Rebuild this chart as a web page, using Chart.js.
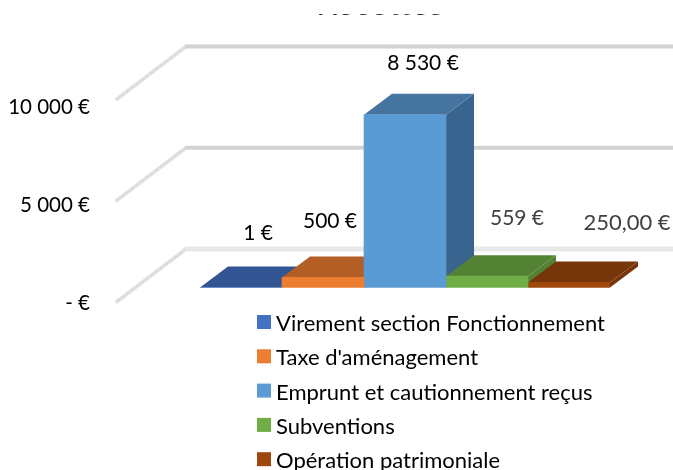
<!DOCTYPE html>
<html><head><meta charset="utf-8">
<style>html,body{margin:0;padding:0;background:#fff;overflow:hidden}canvas{display:block}</style>
<script src="https://cdn.jsdelivr.net/npm/chart.js@4/dist/chart.umd.min.js"></script>
</head><body>
<canvas id="c" width="673" height="470"></canvas>
<script>
const chartTitle = "Recettes";
const categories = [""];
const seriesNames = ["Virement section Fonctionnement","Taxe d'aménagement","Emprunt et cautionnement reçus","Subventions","Opération patrimoniale"];
const seriesValues = [1, 500, 8530, 559, 250];
const valueLabels = ["1 €","500 €","8 530 €","559 €","250,00 €"];
const tickValues = [0, 5000, 10000];
const tickLabels = ["- €","5 000 €","10 000 €"];

const frontColors = ["#4472C4","#ED7D31","#5B9BD5","#70AD47","#9E480E"];
const topColors   = ["#335593","#B25E25","#44749F","#548235","#773609"];
const sideColors  = ["#2C4B81","#9C5320","#396490","#548235","#773609"];
const labelColors = ["#000","#000","#000","#404040","#404040"];
const labelSizes  = [21,21,21,21,22];
const labelShift  = [[17,-54],[7,-56],[18,-52],[30,-58],[58,-60]];
const FONT = "Lato";
const DEPTH = {dx:28, dy:-21};
const WALL = {dx:71, dy:-54, yShift:-38.5, xInset:14};

const scene = {
  id:"scene",
  beforeDatasetsDraw(chart){
    const c = chart.ctx, a = chart.chartArea, d = chart.scales.depth;
    const x1 = a.left - WALL.xInset;
    c.save();
    // title, cut by the top of the picture as in the original
    c.save();
    c.beginPath(); c.rect(0,14,chart.width,40); c.clip();
    c.fillStyle="#333"; c.font="34px "+FONT; c.textAlign="left"; c.textBaseline="alphabetic";
    c.fillText(chartTitle, 316, 14.7);
    c.restore();
    // walls
    tickValues.forEach((v,i)=>{
      const y = d.getPixelForValue(v)+WALL.yShift;
      c.lineCap="round";
      c.strokeStyle="#e3e3e3"; c.lineWidth=4;
      c.beginPath(); c.moveTo(x1+WALL.dx*-1+2,y-WALL.dy-1.5); c.lineTo(x1,y); c.stroke();
      c.strokeStyle="#d0d0d0"; c.lineWidth=1; c.setLineDash([3,3]);
      c.beginPath(); c.moveTo(x1+WALL.dx*-1+2,y-WALL.dy-1.5); c.lineTo(x1,y); c.stroke();
      c.setLineDash([]);
      c.lineCap="butt";
      c.strokeStyle = i===0 ? "#e8e8e8" : "#d2d2d2"; c.lineWidth = i===0 ? 5 : 4;
      c.beginPath(); c.moveTo(x1-1,y); c.lineTo(chart.width,y); c.stroke();
    });
    // extrusion of each bar
    chart.data.datasets.forEach((ds,i)=>{
      const b = chart.getDatasetMeta(i).data[0];
      const l=b.x-b.width/2, r=b.x+b.width/2, t=b.y, bo=b.base;
      c.fillStyle=sideColors[i];
      c.beginPath(); c.moveTo(r,t); c.lineTo(r+DEPTH.dx,t+DEPTH.dy); c.lineTo(r+DEPTH.dx,bo+DEPTH.dy); c.lineTo(r,bo); c.closePath(); c.fill();
      c.fillStyle=topColors[i];
      c.beginPath(); c.moveTo(l,t); c.lineTo(l+DEPTH.dx,t+DEPTH.dy); c.lineTo(r+DEPTH.dx,t+DEPTH.dy); c.lineTo(r,t); c.closePath(); c.fill();
    });
    c.restore();
  },
  afterDatasetsDraw(chart){
    const c = chart.ctx;
    c.save();
    c.textAlign="center"; c.textBaseline="middle";
    chart.data.datasets.forEach((ds,i)=>{
      const b = chart.getDatasetMeta(i).data[0];
      c.font=labelSizes[i]+"px "+FONT;
      c.fillStyle=labelColors[i];
      c.fillText(valueLabels[i], b.x+labelShift[i][0], b.y+labelShift[i][1]);
    });
    // legend
    c.textAlign="left"; c.font="22px "+FONT;
    chart.data.datasets.forEach((ds,i)=>{
      const y = 323+i*34.3;
      c.fillStyle=ds.backgroundColor; c.fillRect(257,y-8,14,14);
      c.fillStyle="#000"; c.fillText(ds.label,276,y+1);
    });
    c.restore();
  }
};

new Chart(document.getElementById("c"),{
  type:"bar",
  data:{labels:categories,
    datasets:seriesNames.map((n,i)=>({label:n,data:[seriesValues[i]],backgroundColor:frontColors[i],yAxisID:"depth",categoryPercentage:1,barPercentage:1,borderWidth:0}))},
  plugins:[scene],
  options:{
    responsive:false,animation:false,
    layout:{padding:{left:0,right:63,top:107,bottom:167}},
    plugins:{legend:{display:false},title:{display:false},tooltip:{enabled:false}},
    scales:{
      x:{display:false},
      depth:{display:false,min:-765,max:8914},
      y:{position:"left",min:0,max:10000,
        grid:{display:false,drawTicks:false},border:{display:false},
        afterFit(s){s.width=200;s.paddingTop=0;s.paddingBottom=0;},
        ticks:{stepSize:5000,padding:110,color:"#000",font:{family:FONT,size:20.5},
          callback(v){const k=tickValues.indexOf(v);return k<0?"":tickLabels[k];}}}
    }
  }
});
</script>
</body></html>
